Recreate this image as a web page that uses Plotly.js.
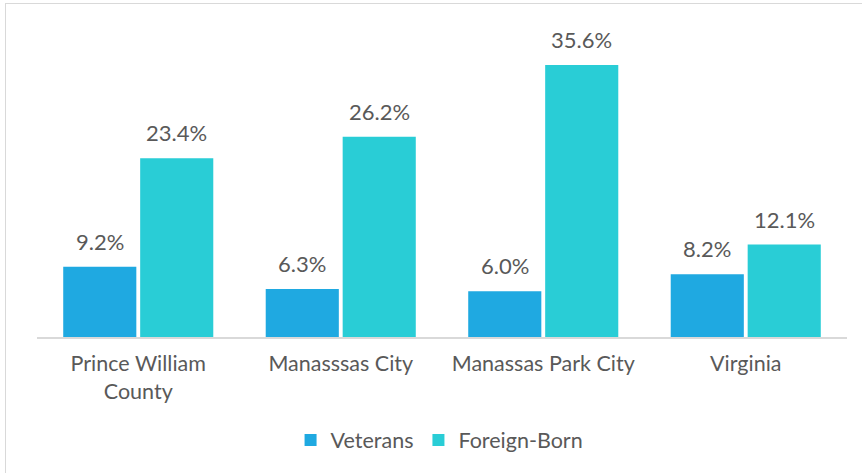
<!DOCTYPE html>
<html><head><meta charset="utf-8">
<script src="https://cdn.plot.ly/plotly-3.0.1.min.js"></script>
<style>
body{margin:0;background:#fff;}
#frame{position:absolute;left:5px;top:3px;width:900px;height:500px;border-left:1px solid #d9d9d9;border-top:1px solid #d9d9d9;}
#chart{position:absolute;left:0;top:0;width:862px;height:473px;}
</style>
</head><body>
<div id="frame"></div>
<div id="chart"></div>
<script>
const categories = ["Prince William<br>County", "Manasssas City", "Manassas Park City", "Virginia"];
const veterans = [9.2, 6.3, 6.0, 8.2];
const foreignBorn = [23.4, 26.2, 35.6, 12.1];
const seriesNames = ["Veterans", "Foreign-Born"];
const colors = ["#1fa9e1", "#29cdd6"];

const font = "Lato, 'Open Sans', sans-serif";
const textColor = "#595959";

const traces = [
  {type:"bar", name:seriesNames[0], x:categories, y:veterans, marker:{color:colors[0]}, hoverinfo:"none"},
  {type:"bar", name:seriesNames[1], x:categories, y:foreignBorn, marker:{color:colors[1]}, hoverinfo:"none"}
];

const annotations = [];
[veterans, foreignBorn].forEach((vals, si) => {
  vals.forEach((v, i) => {
    annotations.push({
      x: categories[i], y: v, xref:"x", yref:"y",
      text: v.toFixed(1) + "%", showarrow:false,
      yanchor:"bottom", xanchor:"center",
      xshift: si === 0 ? -38.5 : 38.5, yshift: 10,
      font:{family:font, size:22, color:textColor}
    });
  });
});

const layout = {
  width:862, height:473,
  margin:{l:37, r:15, t:20, b:136},
  paper_bgcolor:"rgba(0,0,0,0)", plot_bgcolor:"rgba(0,0,0,0)",
  barmode:"group", bargap:0.24, bargroupgap:0.05,
  showlegend:true,
  legend:{orientation:"h", x:0.497, xanchor:"center", y:-0.325, yanchor:"middle",
          font:{family:font, size:21.5, color:textColor}, itemwidth:30, tracegroupgap:0},
  xaxis:{showline:true, linecolor:"#d9d9d9", linewidth:2, ticks:"", ticklabelstandoff:6,
         tickfont:{family:font, size:21.5, color:textColor}, fixedrange:true},
  yaxis:{range:[0,41.5], showgrid:false, showticklabels:false, zeroline:false, showline:false, ticks:"", fixedrange:true},
  annotations: annotations,
  font:{family:font, color:textColor}
};

Plotly.newPlot("chart", traces, layout, {displayModeBar:false, staticPlot:true});
</script>
</body></html>
